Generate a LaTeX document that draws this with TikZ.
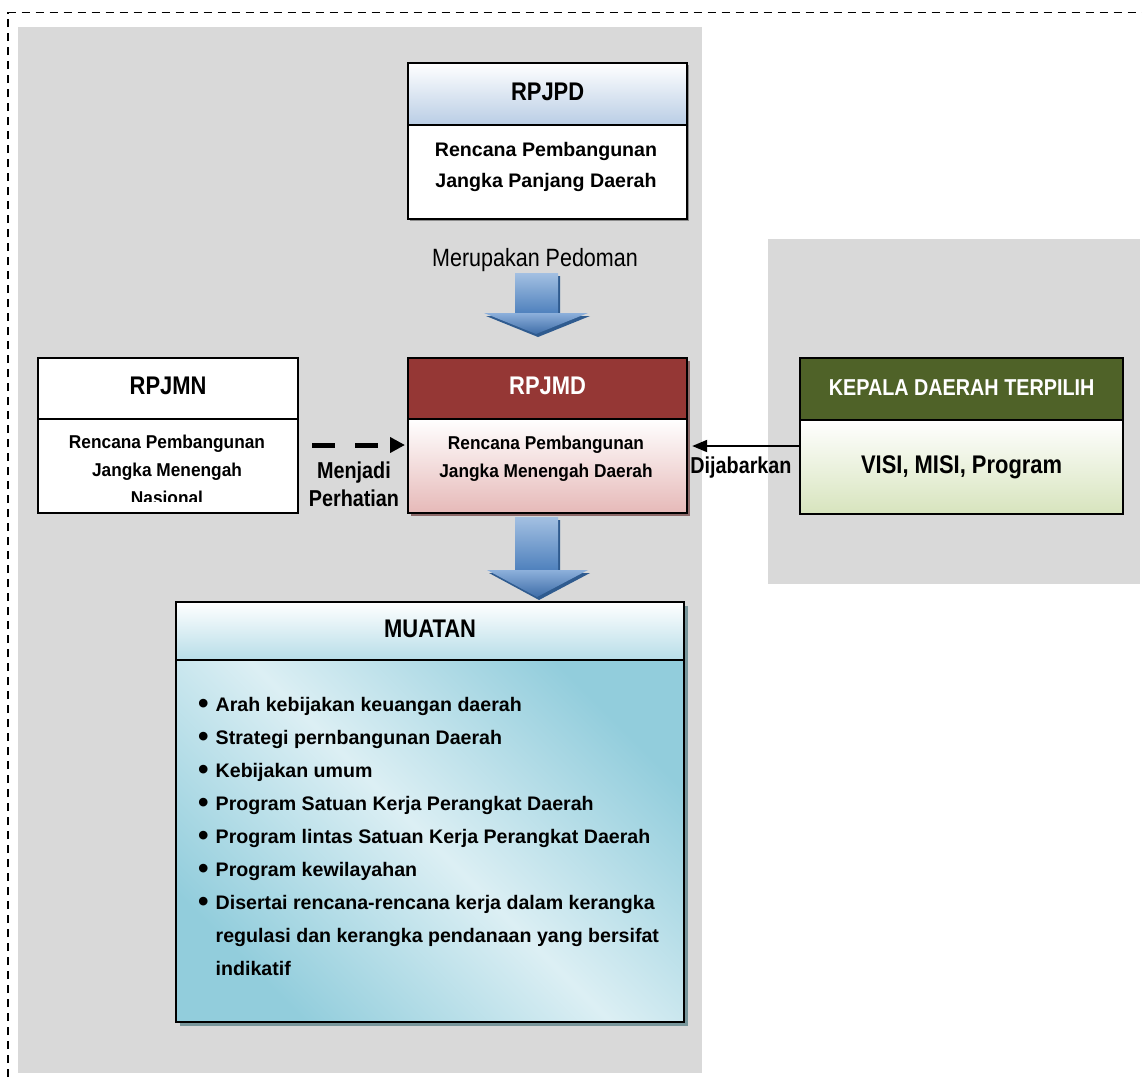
\documentclass[tikz,border=0pt]{standalone}
\usepackage{fontspec}
\setmainfont{Liberation Sans}
\newfontfamily\cnd[FakeStretch=0.86]{Liberation Sans}
\newfontfamily\cndb[FakeStretch=0.93]{Liberation Sans}
\usetikzlibrary{arrows.meta,calc}
\definecolor{panel}{HTML}{D9D9D9}
\definecolor{hblue}{HTML}{B9CDE5}
\definecolor{hred}{HTML}{953735}
\definecolor{bred}{HTML}{E6B9B8}
\definecolor{hgreen}{HTML}{4F6228}
\definecolor{bgreen}{HTML}{D7E4BD}
\definecolor{hcyan}{HTML}{B7DDE8}
\definecolor{dcyan}{HTML}{92CDDC}
\definecolor{lcyan}{HTML}{DCEFF4}
\definecolor{atop}{HTML}{A3C0E2}
\definecolor{amid}{HTML}{4F81BD}
\definecolor{htop}{HTML}{8DB0DB}
\definecolor{hbot}{HTML}{3E6DA8}
\definecolor{adark}{HTML}{2F5B8F}
\definecolor{shgray}{HTML}{8C8C8C}
\definecolor{shred}{HTML}{8C6969}
\definecolor{shcyan}{HTML}{78969B}
\begin{document}
\begin{tikzpicture}[x=1pt,y=-1pt,
  box/.style={draw=black,line width=2.2pt,rectangle,inner sep=0pt,anchor=north west},
  hdr/.style={box,font=\cnd\bfseries\fontsize{25.5}{30}\selectfont,text depth=5pt},
  bodytxt/.style={align=center,inner sep=0pt,font=\bfseries\fontsize{19.6}{31}\selectfont},
  bodytxtc/.style={align=center,inner sep=0pt,font=\cndb\bfseries\fontsize{18.6}{28}\selectfont},
  lbl/.style={inner sep=0pt,font=\cnd\bfseries\fontsize{23}{28}\selectfont},
  dasharrow/.style={line width=5pt,dash pattern=on 23pt off 20pt,-{Triangle[length=15pt,width=15pt]}},
  thinarrow/.style={line width=2pt,-{Triangle[length=15pt,width=12pt]}}
]
\useasboundingbox (0,0) rectangle (1142,1077);
% panels
\fill[panel] (18,27) rectangle (702,1073);
\fill[panel] (768,239) rectangle (1140,584);
\draw[dash pattern=on 8pt off 6pt,line width=1.3pt] (8,1077) -- (8,12.7) -- (1142,12.7);

% shadows
\fill[shgray] (410,65) rectangle (689,221);
\fill[shred] (411,361) rectangle (690,516);
\fill[shcyan] (180,606) rectangle (688,1026);

% RPJPD
\node[hdr,minimum width=279pt,minimum height=62pt,top color=white,bottom color=hblue] (rpjpdh) at (407,62) {RPJPD};
\node[box,minimum width=279pt,minimum height=94pt,fill=white] (rpjpdb) at (407,124) {};
\node[bodytxt] (rpjpdt) at (546,167.2) {Rencana Pembangunan\\Jangka Panjang Daerah};

% arrow 1
\node[inner sep=0pt,anchor=base,font=\cnd\fontsize{25}{30}\selectfont] (pedoman) at (535,266) {Merupakan Pedoman};
\fill[adark,shift={(2,3)}] (515,273) -- (558,273) -- (558,313) -- (588,313) -- (536,334) -- (484,313) -- (515,313) -- cycle;
\shade[top color=atop,bottom color=amid] (515,273) rectangle (558,313);
\shade[top color=htop,bottom color=hbot] (484,313) -- (588,313) -- (536,334) -- cycle;

% RPJMD
\node[hdr,minimum width=279pt,minimum height=61pt,fill=hred,text=white] (rpjmdh) at (407,357) {RPJMD};
\node[box,minimum width=279pt,minimum height=94pt,top color=white,bottom color=bred] (rpjmdb) at (407,418) {};
\node[bodytxtc] (rpjmdt) at (546,458.3) {Rencana Pembangunan\\Jangka Menengah Daerah};

% RPJMN
\node[hdr,minimum width=260pt,minimum height=61pt,fill=white] (rpjmnh) at (37,357) {RPJMN};
\node[box,minimum width=260pt,minimum height=94pt,fill=white] (rpjmnb) at (37,418) {};
\begin{scope}
\clip (38,420) rectangle (296,501);
\node[bodytxtc] (rpjmnt) at (167,470.3) {Rencana Pembangunan\\Jangka Menengah\\Nasional};
\end{scope}

% KEPALA DAERAH
\node[box,minimum width=323pt,minimum height=62pt,fill=hgreen,text=white,font=\cnd\bfseries\fontsize{23}{28}\selectfont,text depth=4pt] (keph) at (799,357) {KEPALA DAERAH TERPILIH};
\node[box,minimum width=323pt,minimum height=94pt,top color=white,bottom color=bgreen,font=\cnd\bfseries\fontsize{25.5}{30}\selectfont] (kepb) at (799,419) {VISI, MISI, Program};

% connectors
\draw[dasharrow] ($(rpjmnb.north east)+(13,27)$) -- ($(rpjmdb.north west)+(-2,27)$);
\node[lbl,align=center] (perhatian) at (354,483.8) {Menjadi\\Perhatian};
\draw[thinarrow] ($(kepb.north west)+(0,27)$) -- ($(rpjmdb.north east)+(4,28)$);
\node[lbl,anchor=base] (dijabarkan) at (741,473) {Dijabarkan};

% arrow 2
\fill[adark,shift={(2,3)}] (515,517) -- (558,517) -- (558,570) -- (588,570) -- (537,597) -- (487,570) -- (515,570) -- cycle;
\shade[top color=atop,bottom color=amid] (515,517) rectangle (558,570);
\shade[top color=htop,bottom color=hbot] (487,570) -- (588,570) -- (537,597) -- cycle;

% MUATAN
\node[hdr,minimum width=508pt,minimum height=58pt,top color=white,bottom color=hcyan] (muath) at (175,601) {MUATAN};
\node[box,minimum width=508pt,minimum height=362pt,left color=dcyan,right color=dcyan,middle color=lcyan,shading angle=-45] (muatb) at (175,659) {};
\node[anchor=north west,inner sep=0pt,font=\bfseries\fontsize{19.6}{33}\selectfont] (list) at (198,687.9) {%
\begin{tabular}{@{}c@{\hspace{7pt}}l@{}}
\raisebox{-2.5pt}{\fontsize{30}{33}\selectfont\textbullet} & Arah kebijakan keuangan daerah\\
\raisebox{-2.5pt}{\fontsize{30}{33}\selectfont\textbullet} & Strategi pernbangunan Daerah\\
\raisebox{-2.5pt}{\fontsize{30}{33}\selectfont\textbullet} & Kebijakan umum\\
\raisebox{-2.5pt}{\fontsize{30}{33}\selectfont\textbullet} & Program Satuan Kerja Perangkat Daerah\\
\raisebox{-2.5pt}{\fontsize{30}{33}\selectfont\textbullet} & Program lintas Satuan Kerja Perangkat Daerah\\
\raisebox{-2.5pt}{\fontsize{30}{33}\selectfont\textbullet} & Program kewilayahan\\
\raisebox{-2.5pt}{\fontsize{30}{33}\selectfont\textbullet} & Disertai rencana-rencana kerja dalam kerangka\\
 & regulasi dan kerangka pendanaan yang bersifat\\
 & indikatif
\end{tabular}};
\end{tikzpicture}
\end{document}
